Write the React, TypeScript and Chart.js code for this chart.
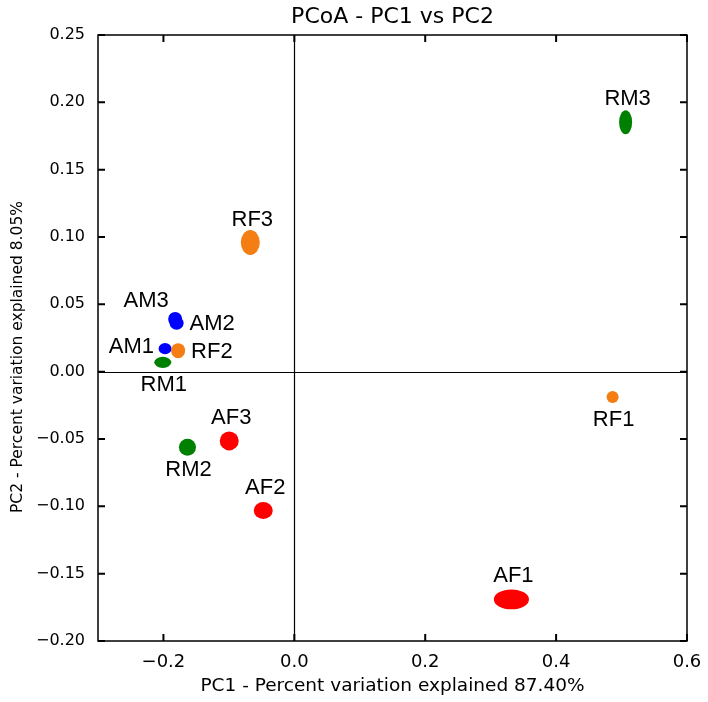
import React, { useEffect, useRef } from 'react';
import { Chart, registerables } from 'chart.js';

Chart.register(...registerables);

const sampleNames = ['RM3', 'RF3', 'AM3', 'AM2', 'AM1', 'RF2', 'RM1', 'RM2', 'AF3', 'AF2', 'RF1', 'AF1'];
const sampleGroups = ['RM', 'RF', 'AM', 'AM', 'AM', 'RF', 'RM', 'RM', 'AF', 'AF', 'RF', 'AF'];
const pc1Values = [0.5062, -0.0673, -0.1821, -0.1799, -0.1975, -0.1776, -0.201, -0.1633, -0.0995, -0.0475, 0.4863, 0.3317];
const pc2Values = [0.1852, 0.0959, 0.0391, 0.036, 0.0171, 0.0156, 0.0069, -0.0562, -0.0514, -0.1031, -0.0188, -0.1691];
const pc1Spread = [0.0199, 0.029, 0.0214, 0.0214, 0.0199, 0.0214, 0.026, 0.026, 0.029, 0.029, 0.0184, 0.0536];
const pc2Spread = [0.0178, 0.0185, 0.0104, 0.0097, 0.0082, 0.0111, 0.0082, 0.0126, 0.0141, 0.0126, 0.0089, 0.0148];
const labelSides = ['above', 'above', 'above-left', 'right', 'left', 'right', 'below', 'below', 'above', 'above', 'below', 'above'];
const groupOrder = ['RM', 'AM', 'RF', 'AF'];
const xTickValues = [-0.2, 0.0, 0.2, 0.4, 0.6];
const yTickValues = [-0.2, -0.15, -0.1, -0.05, 0.0, 0.05, 0.1, 0.15, 0.2, 0.25];

const titleText = 'PCoA - PC1 vs PC2';
const xTitle = 'PC1 - Percent variation explained 87.40%';
const yTitle = 'PC2 - Percent variation explained 8.05%';

const groupColors: Record<string, string> = {
  AM: '#0000ff',
  AF: '#ff0000',
  RM: '#008000',
  RF: '#f47d14',
};

const labelOffsets: Record<string, { dx: number; dy: number; align: CanvasTextAlign }> = {
  above: { dx: 2, dy: -23, align: 'center' },
  below: { dx: 1, dy: 23, align: 'center' },
  left: { dx: -11, dy: -2, align: 'right' },
  right: { dx: 13, dy: 1, align: 'left' },
  'above-left': { dx: -29, dy: -18, align: 'center' },
};

const fmtNum = (v: number, d: number) => (v < -1e-9 ? '\u2212' : '') + Math.abs(v).toFixed(d);

const framePlugin = {
  id: 'framePlugin',
  afterDatasetsDraw(chart: any) {
    const { ctx, chartArea: a, scales } = chart;
    const xs = scales.x;
    const ys = scales.y;
    ctx.save();
    // ellipses
    chart.data.datasets.forEach((ds: any) => {
      ds.data.forEach((p: any) => {
        const cx = xs.getPixelForValue(p.x);
        const cy = ys.getPixelForValue(p.y);
        const rx = Math.abs(xs.getPixelForValue(p.x + p.w / 2) - cx);
        const ry = Math.abs(ys.getPixelForValue(p.y + p.h / 2) - cy);
        ctx.beginPath();
        ctx.ellipse(cx, cy, rx, ry, 0, 0, Math.PI * 2);
        ctx.fillStyle = ds.backgroundColor;
        ctx.fill();
      });
    });
    // zero lines
    ctx.strokeStyle = '#000';
    ctx.lineWidth = 1.2;
    const x0 = Math.round(xs.getPixelForValue(0)) + 0.5;
    const y0 = Math.round(ys.getPixelForValue(0)) + 0.5;
    ctx.beginPath();
    ctx.moveTo(x0, a.top);
    ctx.lineTo(x0, a.bottom);
    ctx.moveTo(a.left, y0);
    ctx.lineTo(a.right, y0);
    ctx.stroke();
    // frame
    ctx.lineWidth = 1.5;
    ctx.strokeRect(a.left, a.top, a.right - a.left, a.bottom - a.top);
    // inward ticks on all sides
    ctx.lineWidth = 2;
    const tl = 7;
    ctx.beginPath();
    xTickValues.forEach((v) => {
      const px = xs.getPixelForValue(v);
      ctx.moveTo(px, a.bottom);
      ctx.lineTo(px, a.bottom - tl);
      ctx.moveTo(px, a.top);
      ctx.lineTo(px, a.top + tl);
    });
    yTickValues.forEach((v) => {
      const py = ys.getPixelForValue(v);
      ctx.moveTo(a.left, py);
      ctx.lineTo(a.left + tl, py);
      ctx.moveTo(a.right, py);
      ctx.lineTo(a.right - tl, py);
    });
    ctx.stroke();
    // point labels
    ctx.fillStyle = '#000';
    ctx.font = '22px "Liberation Sans", Arial, sans-serif';
    ctx.textBaseline = 'middle';
    chart.data.datasets.forEach((ds: any) => {
      ds.data.forEach((p: any) => {
        const off = labelOffsets[p.side];
        ctx.textAlign = off.align;
        ctx.fillText(p.name, xs.getPixelForValue(p.x) + off.dx, ys.getPixelForValue(p.y) + off.dy);
      });
    });
    // chart title
    ctx.font = '22px "DejaVu Sans", sans-serif';
    ctx.textAlign = 'center';
    ctx.fillText(titleText, (a.left + a.right) / 2, 17);
    // y axis title
    ctx.font = '15.5px "DejaVu Sans", sans-serif';
    ctx.translate(18, 357);
    ctx.rotate(-Math.PI / 2);
    ctx.fillText(yTitle, 0, 0);
    ctx.restore();
  },
};

export default function App() {
  const canvasRef = useRef<HTMLCanvasElement | null>(null);

  useEffect(() => {
    document.body.style.margin = '0';
    const canvas = canvasRef.current;
    if (!canvas) return;
    const datasets = groupOrder.map((g) => ({
      label: g,
      backgroundColor: groupColors[g],
      borderColor: groupColors[g],
      pointRadius: 0,
      pointHoverRadius: 0,
      data: sampleNames
        .map((name, i) => ({
          x: pc1Values[i],
          y: pc2Values[i],
          w: pc1Spread[i],
          h: pc2Spread[i],
          name,
          side: labelSides[i],
          group: sampleGroups[i],
        }))
        .filter((p) => p.group === g),
    }));

    const chart = new Chart(canvas, {
      type: 'scatter',
      data: { datasets } as any,
      options: {
        responsive: false,
        animation: false,
        events: [],
        layout: { padding: { left: 0, top: 35, right: 21, bottom: 0 } },
        plugins: { legend: { display: false }, tooltip: { enabled: false }, title: { display: false } },
        scales: {
          x: {
            type: 'linear',
            min: -0.3,
            max: 0.6,
            afterBuildTicks: (s: any) => {
              s.ticks = xTickValues.map((v) => ({ value: v }));
            },
            afterFit: (s: any) => {
              s.height = 61;
              s.paddingLeft = 0;
              s.paddingRight = 0;
            },
            grid: { display: false, drawTicks: false },
            border: { display: false },
            ticks: {
              padding: 11,
              color: '#000',
              font: { family: 'DejaVu Sans', size: 18 },
              maxRotation: 0,
              autoSkip: false,
              callback: (v: any) => fmtNum(Number(v), 1),
            },
            title: {
              display: true,
              text: xTitle,
              color: '#000',
              font: { family: 'DejaVu Sans', size: 18.5 },
              padding: { top: 0, bottom: 5 },
            },
          },
          y: {
            type: 'linear',
            min: -0.2,
            max: 0.25,
            afterBuildTicks: (s: any) => {
              s.ticks = yTickValues.map((v) => ({ value: v }));
            },
            afterFit: (s: any) => {
              s.width = 98;
              s.paddingTop = 0;
              s.paddingBottom = 0;
            },
            grid: { display: false, drawTicks: false },
            border: { display: false },
            ticks: {
              padding: 13,
              color: '#000',
              font: { family: 'DejaVu Sans', size: 16 },
              autoSkip: false,
              callback: (v: any) => fmtNum(Number(v), 2),
            },
            title: { display: false },
          },
        },
      },
      plugins: [framePlugin],
    });
    return () => chart.destroy();
  }, []);

  return (
    <div style={{ width: 708, height: 702, background: '#fff' }}>
      <canvas ref={canvasRef} width={708} height={702} style={{ display: 'block' }} />
    </div>
  );
}
